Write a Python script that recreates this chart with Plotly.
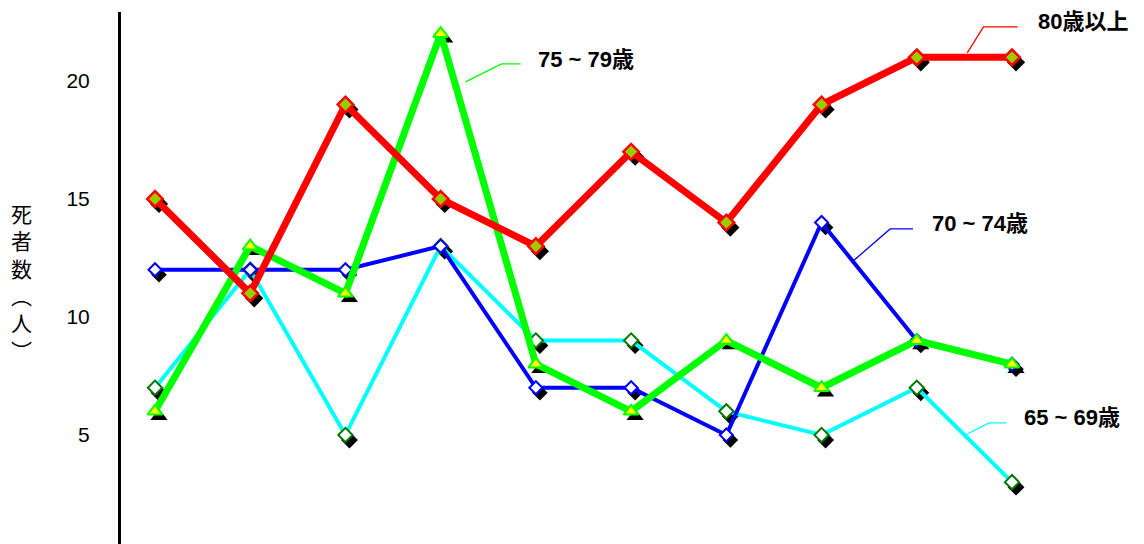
import plotly.graph_objects as go

# Ten survey periods (no labels shown on the horizontal axis)
periods = list(range(10))

deaths_80_plus = [15, 11, 19, 15, 13, 17, 14, 19, 21, 21]
deaths_75_79 = [6, 13, 11, 22, 8, 6, 9, 7, 9, 8]
deaths_70_74 = [12, 12, 12, 13, 7, 7, 5, 14, 9, 8]
deaths_65_69 = [7, 12, 5, 13, 9, 9, 6, 5, 7, 3]

y_ticks = [5, 10, 15, 20]
y_title = "死者数（人）"

# Plot-area geometry in pixels
W, H = 1144, 544
ML, MT = 121, 12
PW, PH = W - ML, H - MT

x_range = [-0.357, 10.386]
y_range = [0.38, 22.92]

# Drop shadows are drawn on a base axis pair whose range is nudged so the
# markers land a few pixels down and to the right.
sx, sy = 4, 5
dx = sx * (x_range[1] - x_range[0]) / PW
dy = sy * (y_range[1] - y_range[0]) / PH
shadow_x_range = [x_range[0] - dx, x_range[1] - dx]
shadow_y_range = [y_range[0] + dy, y_range[1] + dy]

series = [
    # name, values, line colour, line width, marker symbol, size, fill, outline, outline width
    ("65 ~ 69歳", deaths_65_69, "#00FFFF", 4, "diamond", 11, "#FFFFFF", "#007700", 2),
    ("70 ~ 74歳", deaths_70_74, "#0000FF", 4, "diamond", 10, "#FFFFFF", "#0000FF", 2),
    ("75 ~ 79歳", deaths_75_79, "#00FF00", 7, "triangle-up", 13, "#FFFF00", "#00FF00", 2),
    ("80歳以上", deaths_80_plus, "#FF0000", 7, "diamond", 12, "#99CC00", "#FF0000", 2.5),
]

fig = go.Figure()

for name, vals, lc, lw, sym, size, fill, oc, ow in series:
    fig.add_trace(go.Scatter(
        x=periods, y=vals, mode="markers", xaxis="x", yaxis="y",
        marker=dict(symbol=sym, size=size + 2, color="#000000",
                    line=dict(width=0)),
        showlegend=False, hoverinfo="skip",
    ))

for name, vals, lc, lw, sym, size, fill, oc, ow in series:
    fig.add_trace(go.Scatter(
        x=periods, y=vals, mode="lines+markers", name=name,
        xaxis="x2", yaxis="y2",
        line=dict(color=lc, width=lw),
        marker=dict(symbol=sym, size=size, color=fill,
                    line=dict(color=oc, width=ow)),
        showlegend=False,
    ))

# Series labels with thin leader lines
label_font = dict(family="Liberation Sans, Noto Sans CJK JP, sans-serif",
                  size=22, color="#000000")
labels = [
    ("80歳以上", "#FF0000", 9.25, 22.5,
     [(8.53, 21.19), (8.70, 22.29), (9.06, 22.29)]),
    ("75 ~ 79歳", "#00FF00", 4.0, 20.89,
     [(3.26, 19.96), (3.64, 20.72), (3.84, 20.72)]),
    ("70 ~ 74歳", "#0000FF", 8.14, 13.94,
     [(7.32, 12.33), (7.72, 13.73), (7.96, 13.73)]),
    ("65 ~ 69歳", "#00FFFF", 9.11, 5.72,
     [(8.51, 5.0), (8.76, 5.51), (8.94, 5.51)]),
]
for text, col, tx, ty, pts in labels:
    fig.add_annotation(
        x=tx, y=ty, xref="x2", yref="y2", text="<b>%s</b>" % text,
        showarrow=False, xanchor="left", yanchor="middle", font=label_font,
    )
    path = "M %f %f" % pts[0] + "".join(" L %f %f" % p for p in pts[1:])
    fig.add_shape(type="path", path=path, xref="x2", yref="y2",
                  line=dict(color=col, width=1.3))

# Vertical axis title, one character per line
fig.add_annotation(
    x=-0.0968, y=0.4925, xref="paper", yref="paper",
    text="死<br>者<br>数<br>︵<br>人<br>︶",
    showarrow=False, xanchor="center", yanchor="middle",
    font=dict(family="Noto Sans CJK JP, sans-serif", size=21, color="#000000"),
    align="center",
)

common_x = dict(visible=False, showgrid=False, zeroline=False)
fig.update_layout(
    width=W, height=H,
    margin=dict(l=ML, r=0, t=MT, b=0, pad=0),
    paper_bgcolor="#FFFFFF", plot_bgcolor="#FFFFFF",
    xaxis=dict(range=shadow_x_range, **common_x),
    yaxis=dict(range=shadow_y_range, visible=False, showgrid=False,
               zeroline=False),
    xaxis2=dict(range=x_range, overlaying="x", **common_x),
    yaxis2=dict(
        range=y_range, overlaying="y", side="left",
        tickvals=y_ticks, ticktext=[str(v) for v in y_ticks],
        ticks="", showgrid=False, zeroline=False,
        showline=True, linecolor="#000000", linewidth=3,
        ticklabelstandoff=24,
        tickfont=dict(family="Liberation Sans, Arial, sans-serif",
                      size=21, color="#000000"),
    ),
    showlegend=False,
)

fig.write_html("out.html")
